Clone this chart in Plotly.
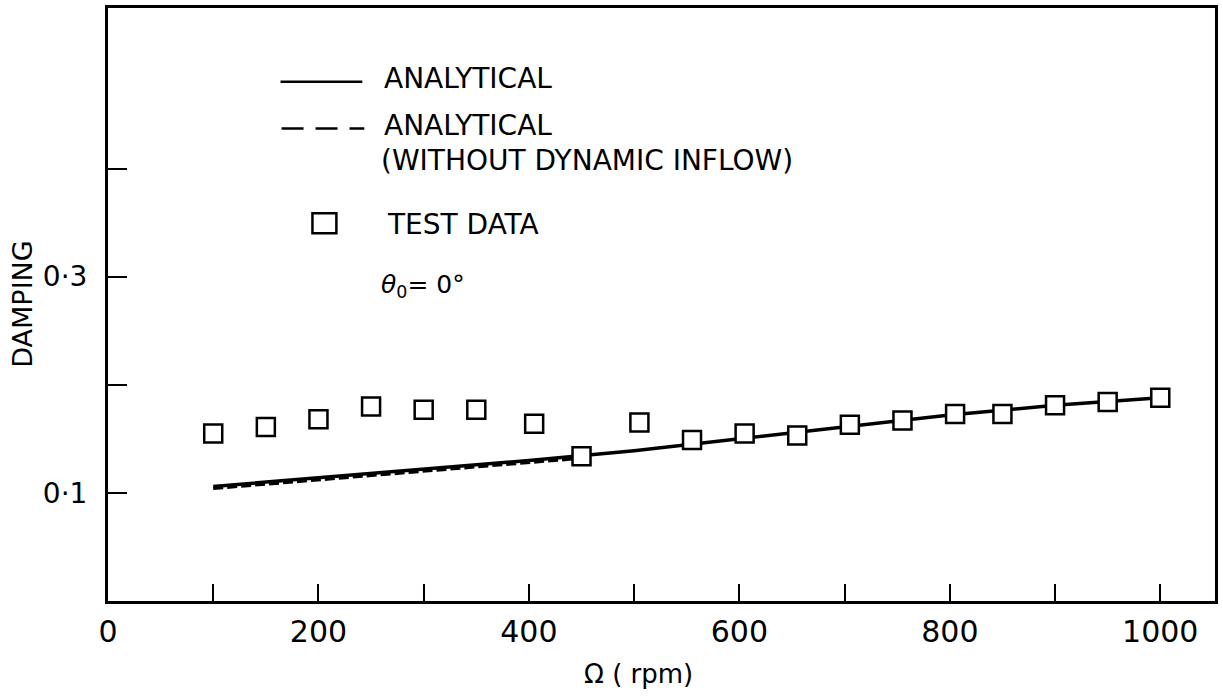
import plotly.graph_objects as go

# ---- data ----
rpm_test = [100, 150, 200, 250, 300, 350, 405, 450, 505, 555, 605, 655, 705, 755, 805, 850, 900, 950, 1000]
damp_test = [0.155, 0.161, 0.168, 0.180, 0.177, 0.177, 0.164, 0.134, 0.165, 0.149, 0.155, 0.153,
             0.163, 0.167, 0.173, 0.173, 0.181, 0.184, 0.188]

rpm_an = [100, 200, 300, 400, 500, 600, 700, 800, 900, 1000]
damp_an = [0.106, 0.114, 0.122, 0.130, 0.139, 0.150, 0.161, 0.172, 0.181, 0.188]

rpm_noinf = [100, 200, 300, 400, 450]
damp_noinf = [0.104, 0.112, 0.120, 0.128, 0.132]

x_tickvals = [0, 100, 200, 300, 400, 500, 600, 700, 800, 900, 1000]
x_ticktext = ["0", "", "200", "", "400", "", "600", "", "800", "", "1000"]
y_tickvals = [0.1, 0.2, 0.3, 0.4]
y_ticktext = ["0·1", "", "0·3", ""]

FONT = "DejaVu Sans"

fig = go.Figure()
fig.add_trace(go.Scatter(x=rpm_noinf, y=damp_noinf, mode="lines",
                         line=dict(color="black", width=3, dash="10px,4px"), showlegend=False))
fig.add_trace(go.Scatter(x=rpm_an, y=damp_an, mode="lines",
                         line=dict(color="black", width=3.5), showlegend=False))
fig.add_trace(go.Scatter(x=rpm_test, y=damp_test, mode="markers",
                         marker=dict(symbol="square", size=18, color="white",
                                     line=dict(color="black", width=2.5)),
                         showlegend=False))

# plot area in pixels: left 108, right 1218, top 6, bottom 601
L, R, T, B = 108, 1218, 6, 601
W, H = R - L, B - T


def px(x):
    return (x - L) / W


def py(y):
    return (B - y) / H


shapes = [
    dict(type="line", xref="paper", yref="paper", x0=px(281), x1=px(363), y0=py(80), y1=py(80),
         line=dict(color="black", width=2.5)),
    dict(type="line", xref="paper", yref="paper", x0=px(282), x1=px(365), y0=py(127), y1=py(127),
         line=dict(color="black", width=2.5, dash="22px,12px")),
    dict(type="rect", xref="paper", yref="paper", x0=px(313), x1=px(337), y0=py(232), y1=py(212),
         line=dict(color="black", width=2.5), fillcolor="white"),
]

ann_font = dict(family=FONT, size=28, color="black")
annotations = [
    dict(text="ANALYTICAL", x=px(383), y=py(77), xref="paper", yref="paper",
         xanchor="left", yanchor="middle", showarrow=False, font=ann_font),
    dict(text="ANALYTICAL", x=px(383), y=py(124), xref="paper", yref="paper",
         xanchor="left", yanchor="middle", showarrow=False, font=ann_font),
    dict(text="(WITHOUT DYNAMIC INFLOW)", x=px(380), y=py(159), xref="paper", yref="paper",
         xanchor="left", yanchor="middle", showarrow=False, font=ann_font),
    dict(text="TEST DATA", x=px(386), y=py(223), xref="paper", yref="paper",
         xanchor="left", yanchor="middle", showarrow=False, font=ann_font),
    dict(text="<i>θ</i><sub>0</sub>= 0°", x=px(380), y=py(285), xref="paper", yref="paper",
         xanchor="left", yanchor="middle", showarrow=False, font=dict(family=FONT, size=25, color="black")),
    dict(text="DAMPING", x=px(22), y=0.5, xref="paper", yref="paper", textangle=-90,
         xanchor="center", yanchor="middle", showarrow=False, font=dict(family=FONT, size=27, color="black")),
    dict(text="Ω ( rpm)", x=px(640), y=py(674), xref="paper", yref="paper",
         xanchor="center", yanchor="middle", showarrow=False, font=dict(family=FONT, size=26, color="black")),
]

fig.update_layout(
    width=1223, height=696,
    margin=dict(l=L, r=1223 - R, t=T, b=696 - B),
    paper_bgcolor="white", plot_bgcolor="white",
    font=dict(family=FONT, color="black"),
    shapes=shapes, annotations=annotations,
    showlegend=False,
)
fig.update_xaxes(range=[0, 1052], tickvals=x_tickvals, ticktext=x_ticktext,
                 ticks="inside", ticklen=17, tickwidth=2, tickcolor="black",
                 showline=True, linecolor="black", linewidth=3, mirror=True,
                 showgrid=False, zeroline=False,
                 tickfont=dict(family=FONT, size=30, color="black"), ticklabelstandoff=2)
fig.update_yaxes(range=[0, 0.5485], tickvals=y_tickvals, ticktext=y_ticktext,
                 ticks="inside", ticklen=19, tickwidth=2, tickcolor="black",
                 showline=True, linecolor="black", linewidth=3, mirror=True,
                 showgrid=False, zeroline=False,
                 tickfont=dict(family=FONT, size=28, color="black"), ticklabelstandoff=12)

fig.write_html("out.html")
